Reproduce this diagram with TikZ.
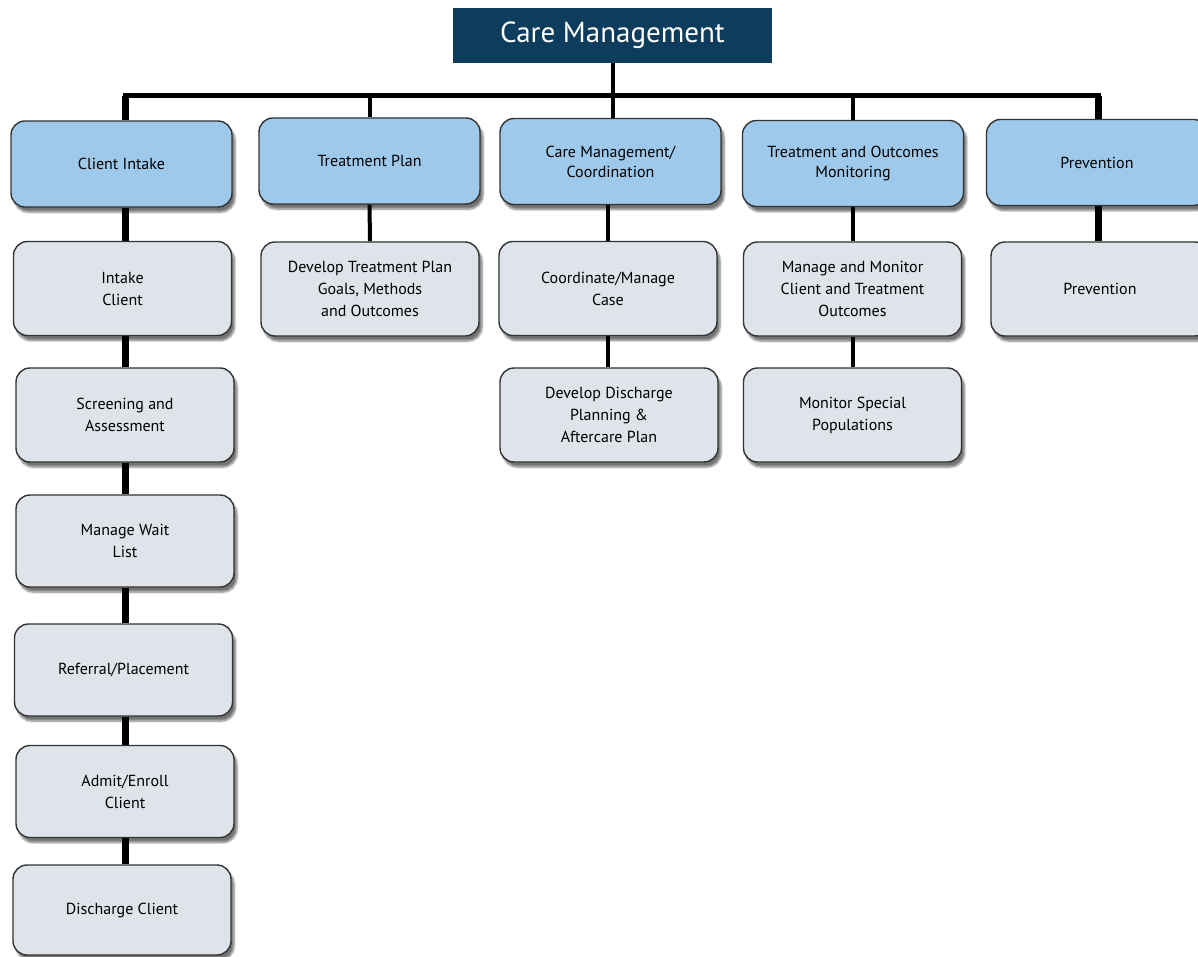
\documentclass[tikz,border=0pt]{standalone}
\usepackage{fontspec}
\setmainfont{PT Sans}
\usetikzlibrary{shadows.blur,backgrounds}
\definecolor{navy}{HTML}{0E3C5D}
\definecolor{topblue}{HTML}{9EC9EA}
\definecolor{subgray}{HTML}{DFE3EA}
\definecolor{edge}{HTML}{333333}
\tikzset{
  cbox/.style={draw=edge, line width=1.4pt, rounded corners=14pt, align=center,
    font=\fontsize{16}{20}\selectfont, inner sep=2pt,
    blur shadow={shadow xshift=3pt, shadow yshift=-5pt, shadow blur steps=6, shadow opacity=55}},
  topbox/.style={cbox, fill=topblue, minimum width=221pt, minimum height=86pt},
  subbox/.style={cbox, fill=subgray, minimum width=218pt, minimum height=94pt, font=\fontsize{16}{22}\selectfont},
  titlebox/.style={fill=navy, text=white, minimum width=319pt, minimum height=55pt,
    font=\fontsize{29}{34}\selectfont, inner sep=0pt},
  link/.style={line width=4pt, black},
  thicklink/.style={line width=7pt, black},
}
\begin{document}
\begin{tikzpicture}[x=1pt,y=-1pt]
\useasboundingbox (0,0) rectangle (1198,957);
\clip (0,0) rectangle (1198,957);

\node[titlebox] (title) at (612.5,35.5) {Care Management};

% top level
\node[topbox] (ci)  at (121.5,164) {Client Intake};
\node[topbox] (tp)  at (369.5,161) {Treatment Plan};
\node[topbox] (cm)  at (610.5,161.5) {Care Management/\\Coordination};
\node[topbox] (tom) at (853,163.5) {Treatment and Outcomes\\Monitoring};
\node[topbox] (pv)  at (1097,162.5) {Prevention};

% second level
\node[subbox] (ic)  at (122.5,288.5) {Intake\\Client};
\node[subbox] (dtp) at (370,289) {Develop Treatment Plan\\Goals, Methods\\and Outcomes};
\node[subbox] (ccm) at (608,288.5) {Coordinate/Manage\\Case};
\node[subbox] (mm)  at (852.5,289) {Manage and Monitor\\Client and Treatment\\Outcomes};
\node[subbox] (pv2) at (1100,289) {Prevention};

% third level
\node[subbox] (sa)  at (125,415) {Screening and\\Assessment};
\node[subbox] (ddp) at (609,415) {Develop Discharge\\Planning \&\\Aftercare Plan};
\node[subbox] (msp) at (852.5,415) {Monitor Special\\Populations};

% client intake column
\node[subbox, minimum height=92pt] (mwl) at (125,541) {Manage Wait\\List};
\node[subbox, minimum height=92pt] (rp)  at (123.5,670) {Referral/Placement};
\node[subbox, minimum height=92pt] (ae)  at (125,791.5) {Admit/Enroll\\Client};
\node[subbox, minimum height=90pt] (dc)  at (122,910) {Discharge Client};

\coordinate (busL) at (125,96);
\coordinate (busR) at (1098,96);

\begin{scope}[on background layer]
  \draw[link] (title.south) -- (title.south |- busL);
  \draw[line width=5pt, line cap=rect] (busL) -- (busR);
  \draw[thicklink] (busL) -- (busL |- ci.north);
  \draw[link] (tp.north |- busL) -- (tp.north);
  \draw[link] (title.south |- busL) -- (title.south |- cm.north);
  \draw[link] (tom.north |- busL) -- (tom.north);
  \draw[thicklink] (busR) -- (busR |- pv.north);
  % drops
  \draw[thicklink] (ci.south -| busL) -- (busL |- ic.north);
  \draw[link] (tp.south) -- (dtp.north);
  \draw[link] (cm.south -| ccm.north) -- (ccm.north);
  \draw[link] (tom.south -| mm.north) -- (mm.north);
  \draw[thicklink] (pv.south -| busR) -- (busR |- pv2.north);
  \draw[link] (ccm.south) -- (ddp.north -| ccm.south);
  \draw[link] (mm.south) -- (msp.north -| mm.south);
  \draw[thicklink] (ic.south -| busL) -- (busL |- sa.north);
  \draw[thicklink] (sa.south) -- (mwl.north);
  \draw[thicklink] (mwl.south) -- (mwl.south |- rp.north);
  \draw[thicklink] (rp.south -| mwl.south) -- (mwl.south |- ae.north);
  \draw[thicklink] (ae.south) -- (ae.south |- dc.north);
\end{scope}
\end{tikzpicture}
\end{document}
